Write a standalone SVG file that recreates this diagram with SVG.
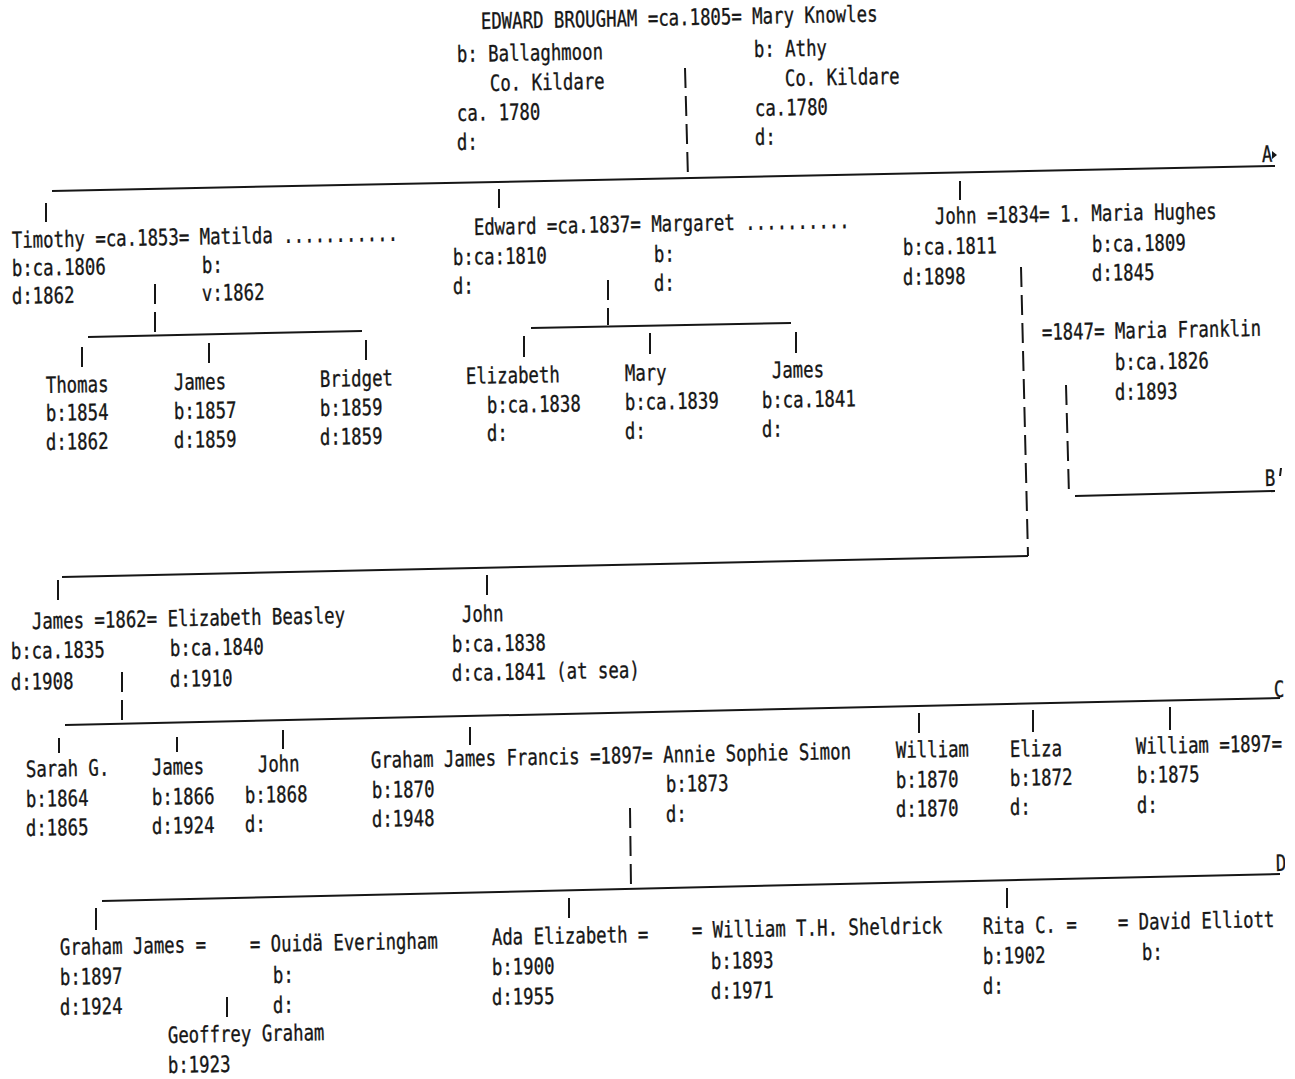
<svg xmlns="http://www.w3.org/2000/svg" width="1295" height="1079" viewBox="0 0 1295 1079">
<style>
text{font-family:"DejaVu Sans Mono","Liberation Mono",monospace;font-size:22.5px;fill:#161616;stroke:#161616;stroke-width:0.35}
.l{stroke:#161616;stroke-width:2;fill:none;stroke-linecap:butt}
.m{stroke:#161616;stroke-width:2;fill:none;stroke-dasharray:20 8}
</style>
<defs>
<clipPath id="pg"><rect x="0" y="0" width="1285" height="1079"/></clipPath>
</defs>
<rect width="1295" height="1079" fill="#fff"/>
<g clip-path="url(#pg)">
<g id="connectors">
<path class="m" d="M685,68 L688,178"/>
<path class="l" d="M52,191 L1275,166"/>
<path class="l" d="M46,203 L46,222 M499,189 L499,208 M960,181 L960,200"/>
<path class="m" d="M155,284 L155,335"/>
<path class="l" d="M88,337 L362,331"/>
<path class="l" d="M82,347 L82,367 M209,343 L209,363 M366,340 L366,360"/>
<path class="m" d="M608,280 L608,325"/>
<path class="l" d="M531,328 L791,323"/>
<path class="l" d="M524,336 L524,357 M650,333 L650,354 M796,332 L796,353"/>
<path class="m" d="M1021,267 L1028,556"/>
<path class="l" d="M62,577 L1028,556"/>
<path class="l" d="M58,580 L58,600 M487,575 L487,595"/>
<path class="m" d="M1066,385 L1069,495"/>
<path class="l" d="M1075,496 L1275,491"/>
<path class="m" d="M122,672 L122,722"/>
<path class="l" d="M65,725 L1280,698"/>
<path class="l" d="M59,738 L59,753 M177,737 L177,752 M283,730 L283,749 M470,727 L470,745 M919,713 L919,733 M1033,710 L1033,732 M1170,707 L1170,730"/>
<path class="m" d="M630,808 L631,888"/>
<path class="l" d="M102,901 L1280,874"/>
<path class="l" d="M96,908 L96,930 M569,898 L569,918 M1007,888 L1007,908"/>
<path class="l" d="M227,997 L227,1017"/>
<polygon points="1272,151 1277,155 1272,159" fill="#161616"/>
<path class="l" d="M1281,468 L1280,476"/>
</g>

<g id="labels">
<text transform="translate(1262,162) rotate(-1.07) scale(0.771,1)">A</text>
<text transform="translate(1265,486) rotate(-1.07) scale(0.771,1)">B</text>
<text transform="translate(1274,697) rotate(-1.07) scale(0.771,1)">C</text>
<text transform="translate(1276,871) rotate(-1.07) scale(0.771,1)">D</text>
</g>

<g id="edward-brougham">
<text transform="translate(481,29) rotate(-1.07) scale(0.771,1)">EDWARD BROUGHAM =ca.1805= Mary Knowles</text>
<text transform="translate(457,62) rotate(-1.07) scale(0.771,1)">b: Ballaghmoon</text>
<text transform="translate(490,91) rotate(-1.07) scale(0.771,1)">Co. Kildare</text>
<text transform="translate(457,121) rotate(-1.07) scale(0.771,1)">ca. 1780</text>
<text transform="translate(457,150) rotate(-1.07) scale(0.771,1)">d:</text>
</g>
<g id="mary-knowles">
<text transform="translate(754,57) rotate(-1.07) scale(0.771,1)">b: Athy</text>
<text transform="translate(785,86) rotate(-1.07) scale(0.771,1)">Co. Kildare</text>
<text transform="translate(755,116) rotate(-1.07) scale(0.771,1)">ca.1780</text>
<text transform="translate(755,145) rotate(-1.07) scale(0.771,1)">d:</text>
</g>

<g id="timothy">
<text transform="translate(12,248) rotate(-1.07) scale(0.771,1)">Timothy =ca.1853= Matilda ...........</text>
<text transform="translate(12,276) rotate(-1.07) scale(0.771,1)">b:ca.1806</text>
<text transform="translate(12,304) rotate(-1.07) scale(0.771,1)">d:1862</text>
</g>
<g id="matilda">
<text transform="translate(202,273) rotate(-1.07) scale(0.771,1)">b:</text>
<text transform="translate(202,301) rotate(-1.07) scale(0.771,1)">v:1862</text>
</g>
<g id="thomas">
<text transform="translate(46,393) rotate(-1.07) scale(0.771,1)">Thomas</text>
<text transform="translate(46,421) rotate(-1.07) scale(0.771,1)">b:1854</text>
<text transform="translate(46,450) rotate(-1.07) scale(0.771,1)">d:1862</text>
</g>
<g id="james-1857">
<text transform="translate(174,390) rotate(-1.07) scale(0.771,1)">James</text>
<text transform="translate(174,419) rotate(-1.07) scale(0.771,1)">b:1857</text>
<text transform="translate(174,448) rotate(-1.07) scale(0.771,1)">d:1859</text>
</g>
<g id="bridget">
<text transform="translate(320,387) rotate(-1.07) scale(0.771,1)">Bridget</text>
<text transform="translate(320,416) rotate(-1.07) scale(0.771,1)">b:1859</text>
<text transform="translate(320,445) rotate(-1.07) scale(0.771,1)">d:1859</text>
</g>

<g id="edward">
<text transform="translate(474,235) rotate(-1.07) scale(0.771,1)">Edward =ca.1837= Margaret ..........</text>
<text transform="translate(453,265) rotate(-1.07) scale(0.771,1)">b:ca:1810</text>
<text transform="translate(453,294) rotate(-1.07) scale(0.771,1)">d:</text>
</g>
<g id="margaret">
<text transform="translate(654,262) rotate(-1.07) scale(0.771,1)">b:</text>
<text transform="translate(654,291) rotate(-1.07) scale(0.771,1)">d:</text>
</g>
<g id="elizabeth-1838">
<text transform="translate(466,384) rotate(-1.07) scale(0.771,1)">Elizabeth</text>
<text transform="translate(487,413) rotate(-1.07) scale(0.771,1)">b:ca.1838</text>
<text transform="translate(487,441) rotate(-1.07) scale(0.771,1)">d:</text>
</g>
<g id="mary-1839">
<text transform="translate(625,381) rotate(-1.07) scale(0.771,1)">Mary</text>
<text transform="translate(625,410) rotate(-1.07) scale(0.771,1)">b:ca.1839</text>
<text transform="translate(625,439) rotate(-1.07) scale(0.771,1)">d:</text>
</g>
<g id="james-1841">
<text transform="translate(772,378) rotate(-1.07) scale(0.771,1)">James</text>
<text transform="translate(762,408) rotate(-1.07) scale(0.771,1)">b:ca.1841</text>
<text transform="translate(762,437) rotate(-1.07) scale(0.771,1)">d:</text>
</g>

<g id="john-1811">
<text transform="translate(935,224) rotate(-1.07) scale(0.771,1)">John =1834= 1. Maria Hughes</text>
<text transform="translate(903,255) rotate(-1.07) scale(0.771,1)">b:ca.1811</text>
<text transform="translate(903,285) rotate(-1.07) scale(0.771,1)">d:1898</text>
</g>
<g id="maria-hughes">
<text transform="translate(1092,252) rotate(-1.07) scale(0.771,1)">b:ca.1809</text>
<text transform="translate(1092,281) rotate(-1.07) scale(0.771,1)">d:1845</text>
</g>
<g id="maria-franklin">
<text transform="translate(1042,340) rotate(-1.07) scale(0.771,1)">=1847= Maria Franklin</text>
<text transform="translate(1115,370) rotate(-1.07) scale(0.771,1)">b:ca.1826</text>
<text transform="translate(1115,400) rotate(-1.07) scale(0.771,1)">d:1893</text>
</g>

<g id="james-1835">
<text transform="translate(32,629) rotate(-1.07) scale(0.771,1)">James =1862= Elizabeth Beasley</text>
<text transform="translate(11,659) rotate(-1.07) scale(0.771,1)">b:ca.1835</text>
<text transform="translate(11,690) rotate(-1.07) scale(0.771,1)">d:1908</text>
</g>
<g id="elizabeth-beasley">
<text transform="translate(170,656) rotate(-1.07) scale(0.771,1)">b:ca.1840</text>
<text transform="translate(170,687) rotate(-1.07) scale(0.771,1)">d:1910</text>
</g>
<g id="john-1838">
<text transform="translate(462,622) rotate(-1.07) scale(0.771,1)">John</text>
<text transform="translate(452,652) rotate(-1.07) scale(0.771,1)">b:ca.1838</text>
<text transform="translate(452,681) rotate(-1.07) scale(0.771,1)">d:ca.1841 (at sea)</text>
</g>

<g id="sarah">
<text transform="translate(26,777) rotate(-1.07) scale(0.771,1)">Sarah G.</text>
<text transform="translate(26,807) rotate(-1.07) scale(0.771,1)">b:1864</text>
<text transform="translate(26,836) rotate(-1.07) scale(0.771,1)">d:1865</text>
</g>
<g id="james-1866">
<text transform="translate(152,775) rotate(-1.07) scale(0.771,1)">James</text>
<text transform="translate(152,805) rotate(-1.07) scale(0.771,1)">b:1866</text>
<text transform="translate(152,834) rotate(-1.07) scale(0.771,1)">d:1924</text>
</g>
<g id="john-1868">
<text transform="translate(258,772) rotate(-1.07) scale(0.771,1)">John</text>
<text transform="translate(245,803) rotate(-1.07) scale(0.771,1)">b:1868</text>
<text transform="translate(245,832) rotate(-1.07) scale(0.771,1)">d:</text>
</g>
<g id="graham-james-francis">
<text transform="translate(371,768) rotate(-1.07) scale(0.771,1)">Graham James Francis =1897= Annie Sophie Simon</text>
<text transform="translate(372,798) rotate(-1.07) scale(0.771,1)">b:1870</text>
<text transform="translate(372,827) rotate(-1.07) scale(0.771,1)">d:1948</text>
</g>
<g id="annie-sophie-simon">
<text transform="translate(666,792) rotate(-1.07) scale(0.771,1)">b:1873</text>
<text transform="translate(666,822) rotate(-1.07) scale(0.771,1)">d:</text>
</g>
<g id="william-1870">
<text transform="translate(896,758) rotate(-1.07) scale(0.771,1)">William</text>
<text transform="translate(896,788) rotate(-1.07) scale(0.771,1)">b:1870</text>
<text transform="translate(896,817) rotate(-1.07) scale(0.771,1)">d:1870</text>
</g>
<g id="eliza">
<text transform="translate(1010,757) rotate(-1.07) scale(0.771,1)">Eliza</text>
<text transform="translate(1010,786) rotate(-1.07) scale(0.771,1)">b:1872</text>
<text transform="translate(1010,815) rotate(-1.07) scale(0.771,1)">d:</text>
</g>
<g id="william-1875">
<text transform="translate(1136,754) rotate(-1.07) scale(0.771,1)">William =1897=</text>
<text transform="translate(1137,783) rotate(-1.07) scale(0.771,1)">b:1875</text>
<text transform="translate(1137,813) rotate(-1.07) scale(0.771,1)">d:</text>
</g>

<g id="graham-james">
<text transform="translate(60,955) rotate(-1.07) scale(0.771,1)">Graham James =</text>
<text transform="translate(60,985) rotate(-1.07) scale(0.771,1)">b:1897</text>
<text transform="translate(60,1015) rotate(-1.07) scale(0.771,1)">d:1924</text>
</g>
<g id="ouida-everingham">
<text transform="translate(250,952) rotate(-1.07) scale(0.771,1)">= Ouidä Everingham</text>
<text transform="translate(273,983) rotate(-1.07) scale(0.771,1)">b:</text>
<text transform="translate(273,1013) rotate(-1.07) scale(0.771,1)">d:</text>
</g>
<g id="geoffrey-graham">
<text transform="translate(168,1043) rotate(-1.07) scale(0.771,1)">Geoffrey Graham</text>
<text transform="translate(168,1073) rotate(-1.07) scale(0.771,1)">b:1923</text>
</g>
<g id="ada-elizabeth">
<text transform="translate(492,945) rotate(-1.07) scale(0.771,1)">Ada Elizabeth =</text>
<text transform="translate(492,975) rotate(-1.07) scale(0.771,1)">b:1900</text>
<text transform="translate(492,1005) rotate(-1.07) scale(0.771,1)">d:1955</text>
</g>
<g id="william-sheldrick">
<text transform="translate(692,938) rotate(-1.07) scale(0.771,1)">= William T.H. Sheldrick</text>
<text transform="translate(711,969) rotate(-1.07) scale(0.771,1)">b:1893</text>
<text transform="translate(711,999) rotate(-1.07) scale(0.771,1)">d:1971</text>
</g>
<g id="rita">
<text transform="translate(983,934) rotate(-1.07) scale(0.771,1)">Rita C. =</text>
<text transform="translate(983,964) rotate(-1.07) scale(0.771,1)">b:1902</text>
<text transform="translate(983,994) rotate(-1.07) scale(0.771,1)">d:</text>
</g>
<g id="david-elliott">
<text transform="translate(1118,930) rotate(-1.07) scale(0.771,1)">= David Elliott</text>
<text transform="translate(1142,960) rotate(-1.07) scale(0.771,1)">b:</text>
</g>
</g>
</svg>
